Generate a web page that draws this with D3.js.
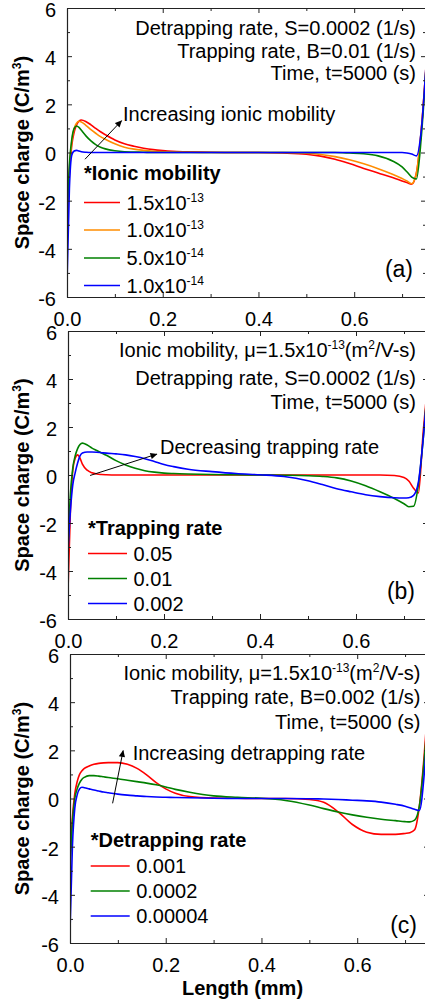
<!DOCTYPE html>
<html><head><meta charset="utf-8">
<script src="https://cdn.jsdelivr.net/npm/d3@7"></script>
<style>body{margin:0;background:#fff}svg{display:block}</style>
</head><body>
<svg id="chart" width="425" height="1004"></svg>
<script>
// ---------- data ----------
const xTicks = [0, 0.2, 0.4, 0.6];
const xMinor = [0.1, 0.3, 0.5, 0.7];
const yTicks = [-6, -4, -2, 0, 2, 4, 6];
const yMinor = [-5, -3, -1, 1, 3, 5];
const xDomain = [0, 0.75];
const yDomain = [-6, 6];

const xs = [0, 0.005, 0.01, 0.015, 0.02, 0.025, 0.03, 0.04, 0.05, 0.06, 0.07, 0.08, 0.1, 0.12, 0.14, 0.16, 0.18, 0.2, 0.22, 0.25, 0.3, 0.35, 0.4, 0.45, 0.5, 0.53, 0.56, 0.59, 0.62, 0.65, 0.68, 0.7, 0.71, 0.72, 0.73, 0.74, 0.75];

// (a) ionic mobility
const aMob15 = [-3.2, -0.9, 0.3, 0.85, 1.15, 1.3, 1.35, 1.28, 1.15, 1.0, 0.86, 0.74, 0.52, 0.36, 0.26, 0.18, 0.12, 0.08, 0.05, 0.03, 0.01, 0, 0, -0.02, -0.07, -0.15, -0.28, -0.46, -0.66, -0.85, -1.04, -1.18, -1.25, -1.32, -0.85, 0.9, 3.6];
const aMob10 = [-3.0, -0.7, 0.45, 1.0, 1.22, 1.3, 1.27, 1.12, 0.95, 0.8, 0.66, 0.55, 0.36, 0.22, 0.14, 0.09, 0.05, 0.03, 0.02, 0.01, 0, 0, 0, 0, -0.03, -0.08, -0.17, -0.3, -0.47, -0.67, -0.9, -1.08, -1.18, -1.3, -0.85, 0.9, 3.5];
const aMob5 = [-3.0, -0.5, 0.55, 1.0, 1.1, 1.04, 0.92, 0.68, 0.48, 0.33, 0.22, 0.15, 0.07, 0.03, 0.02, 0.01, 0, 0, 0, 0, 0, 0, 0, 0, 0, 0, 0, -0.02, -0.05, -0.14, -0.35, -0.6, -0.8, -1.02, -1.1, 0.6, 3.5];
const aMob1 = [-5.4, -1.5, -0.1, 0.06, 0.09, 0.06, 0.03, 0.01, 0, 0, 0, 0, 0, 0, 0, 0, 0, 0, 0, 0, 0, 0, 0, 0, 0, 0, 0, 0, 0, 0, 0, 0, -0.02, -0.06, -0.14, 0.9, 3.6];

// (b) trapping rate
const bTrap05 = [-4.8, -1.5, 0.2, 0.7, 0.84, 0.7, 0.45, 0.2, 0.09, 0.04, 0.02, 0.01, 0, 0, 0, 0, 0, 0, 0, 0, 0, 0, 0, 0, 0, 0, 0, 0, 0, 0, -0.02, -0.1, -0.25, -0.55, -0.75, 1.8, 4.0];
const bTrap01 = [-3.0, -0.8, 0.3, 0.8, 1.1, 1.27, 1.33, 1.25, 1.12, 1.02, 0.92, 0.82, 0.6, 0.42, 0.28, 0.18, 0.12, 0.08, 0.06, 0.04, 0.02, 0.01, 0, -0.01, -0.03, -0.06, -0.12, -0.25, -0.45, -0.7, -0.98, -1.2, -1.32, -1.3, -0.4, 1.5, 4.0];
const bTrap002 = [-3.2, -1.5, -0.4, 0.1, 0.5, 0.8, 0.92, 0.96, 0.96, 0.95, 0.93, 0.91, 0.88, 0.84, 0.77, 0.68, 0.56, 0.44, 0.35, 0.24, 0.14, 0.06, 0.01, -0.06, -0.24, -0.4, -0.57, -0.7, -0.82, -0.9, -0.95, -0.96, -0.95, -0.85, -0.3, 1.5, 3.8];

// (c) detrapping rate
const cDet001 = [-2.6, -0.8, 0.2, 0.7, 1.0, 1.15, 1.25, 1.35, 1.42, 1.46, 1.48, 1.49, 1.49, 1.42, 1.25, 0.98, 0.66, 0.4, 0.22, 0.08, 0.02, 0.01, 0, 0, -0.04, -0.16, -0.55, -1.08, -1.4, -1.49, -1.49, -1.45, -1.42, -1.3, -0.3, 1.8, 4.5];
const cDet0002 = [-3.0, -1.0, 0.0, 0.4, 0.65, 0.8, 0.88, 0.95, 0.95, 0.93, 0.9, 0.87, 0.82, 0.76, 0.7, 0.64, 0.57, 0.48, 0.38, 0.26, 0.11, 0.05, 0.01, -0.08, -0.27, -0.42, -0.56, -0.68, -0.78, -0.86, -0.92, -0.96, -0.97, -0.9, -0.3, 1.6, 4.2];
const cDet00004 = [-5.5, -2.0, -0.4, 0.15, 0.4, 0.47, 0.45, 0.4, 0.35, 0.31, 0.27, 0.24, 0.18, 0.14, 0.11, 0.08, 0.06, 0.05, 0.04, 0.03, 0.01, 0, 0, 0, -0.01, -0.02, -0.04, -0.07, -0.1, -0.15, -0.24, -0.32, -0.38, -0.45, -0.5, 1.0, 4.0];

const aLegend = [["1.5x10", "-13"], ["1.0x10", "-13"], ["5.0x10", "-14"], ["1.0x10", "-14"]];
const bLegend = [["0.05", ""], ["0.01", ""], ["0.002", ""]];
const cLegend = [["0.001", ""], ["0.0002", ""], ["0.00004", ""]];

const colors4 = ["#ff0000", "#ff8c00", "#008000", "#0000ff"];
const colors3 = ["#ff0000", "#008000", "#0000ff"];

// ---------- layout ----------
const FONT = "'Liberation Sans', Arial, Helvetica, sans-serif";
const panels = [
  {
    box: {l: 67, t: 8, b: 297, w: 359},
    series: [aMob15, aMob10, aMob5, aMob1], colors: colors4,
    notes: [
      [["Detrapping rate, S=0.0002 (1/s)"]],
      [["Trapping rate, B=0.01 (1/s)"]],
      [["Time, t=5000 (s)"]]
    ],
    notesX: 416, notesY: [35, 58, 80],
    arrowText: "Increasing ionic mobility", arrowTextPos: [123, 121],
    arrow: [[0.0376, -0.28], [0.114, 1.32]],
    legendTitle: "*Ionic mobility", legendX: 84, legendTitleY: 180,
    legendYs: [202.5, 230, 258, 285.5], legendLen: 36, legend: aLegend,
    tag: "(a)", tagPos: [413, 277]
  },
  {
    box: {l: 68, t: 331, b: 619, w: 360},
    series: [bTrap05, bTrap01, bTrap002], colors: colors3,
    notes: [
      [["Ionic mobility, \u03bc=1.5x10"], ["-13", "sup"], ["(m"], ["2", "sup"], ["/V-s)"]],
      [["Detrapping rate, S=0.0002 (1/s)"]],
      [["Time, t=5000 (s)"]]
    ],
    notesX: 416, notesY: [357, 384.5, 408.5],
    arrowText: "Decreasing trapping rate", arrowTextPos: [160, 453.5],
    arrow: [[0.046, -0.02], [0.185, 0.87]],
    legendTitle: "*Trapping rate", legendX: 88, legendTitleY: 534.5,
    legendYs: [553.5, 578.5, 603.5], legendLen: 39, legend: bLegend,
    tag: "(b)", tagPos: [415, 599]
  },
  {
    box: {l: 70, t: 654, b: 943, w: 359},
    series: [cDet001, cDet0002, cDet00004], colors: colors3,
    notes: [
      [["Ionic mobility, \u03bc=1.5x10"], ["-13", "sup"], ["(m"], ["2", "sup"], ["/V-s)"]],
      [["Trapping rate, B=0.002 (1/s)"]],
      [["Time, t=5000 (s)"]]
    ],
    notesX: 420.5, notesY: [679.5, 704, 728.5],
    arrowText: "Increasing detrapping rate", arrowTextPos: [132.7, 759.5],
    arrow: [[0.089, -0.2], [0.111, 1.99]],
    legendTitle: "*Detrapping rate", legendX: 90.7, legendTitleY: 847,
    legendYs: [866, 891, 916], legendLen: 39, legend: cLegend,
    tag: "(c)", tagPos: [417, 933],
    xTitle: "Length (mm)", xTitleX: 242.5
  }
];

const svg = d3.select("#chart");
svg.append("rect").attr("width", 425).attr("height", 1004).attr("fill", "#fff");
const defs = svg.append("defs");
defs.append("marker").attr("id", "arrowhead")
  .attr("viewBox", "0 0 10 10").attr("refX", 9).attr("refY", 5)
  .attr("markerWidth", 8).attr("markerHeight", 7).attr("orient", "auto")
  .attr("markerUnits", "userSpaceOnUse")
  .append("path").attr("d", "M0,0.5 L10,5 L0,9.5 Z").attr("fill", "#000");

function rich(textSel, parts) {
  let raised = false;
  parts.forEach(([t, kind]) => {
    const ts = textSel.append("tspan").text(t);
    if (kind === "sup") {
      ts.attr("font-size", 12).attr("dy", -8);
      raised = true;
    } else if (raised) {
      ts.attr("dy", 8);
      raised = false;
    }
  });
}

const AX = "#222";

panels.forEach((p, pi) => {
  const {l, t, b, w} = p.box;
  const x = d3.scaleLinear().domain(xDomain).range([l, l + w]);
  const y = d3.scaleLinear().domain(yDomain).range([b, t]);
  const g = svg.append("g");

  const clipId = "clip" + pi;
  defs.append("clipPath").attr("id", clipId).append("rect")
    .attr("x", l).attr("y", t).attr("width", w).attr("height", b - t);

  // series lines
  const line = d3.line().x((d, i) => x(xs[i])).y(d => y(d)).curve(d3.curveMonotoneX);
  const lg = g.append("g").attr("clip-path", `url(#${clipId})`);
  p.series.forEach((s, i) => {
    lg.append("path").datum(s).attr("d", line)
      .attr("fill", "none").attr("stroke", p.colors[i]).attr("stroke-width", 1.6);
  });

  // axes
  const styleAxis = sel => {
    sel.selectAll("path.domain").attr("stroke", AX).attr("stroke-width", 1.2);
    sel.selectAll(".tick line").attr("stroke", AX).attr("stroke-width", 1);
    sel.selectAll(".tick text").attr("fill", "#000").attr("font-family", FONT).attr("font-size", 20);
  };
  const bottom = g.append("g").attr("transform", `translate(0,${b})`)
    .call(d3.axisBottom(x).tickValues(xTicks).tickSizeInner(-5).tickSizeOuter(0).tickPadding(14.5)
      .tickFormat(d3.format(".1f")));
  styleAxis(bottom);
  g.append("g").attr("transform", `translate(0,${b})`)
    .call(d3.axisBottom(x).tickValues(xMinor).tickSize(-3).tickFormat(""))
    .call(styleAxis).select("path.domain").remove();
  const top = g.append("g").attr("transform", `translate(0,${t})`)
    .call(d3.axisTop(x).tickValues(xTicks).tickSizeInner(-5).tickSizeOuter(0).tickFormat(""));
  styleAxis(top);
  g.append("g").attr("transform", `translate(0,${t})`)
    .call(d3.axisTop(x).tickValues(xMinor).tickSize(-3).tickFormat(""))
    .call(styleAxis).select("path.domain").remove();
  const left = g.append("g").attr("transform", `translate(${l},0)`)
    .call(d3.axisLeft(y).tickValues(yTicks).tickSizeInner(-5).tickSizeOuter(0).tickPadding(11)
      .tickFormat(d => String(d)));
  styleAxis(left);
  left.selectAll(".tick text").attr("dy", "0.42em");
  g.append("g").attr("transform", `translate(${l},0)`)
    .call(d3.axisLeft(y).tickValues(yMinor).tickSize(-3).tickFormat(""))
    .call(styleAxis).select("path.domain").remove();
  const right = g.append("g").attr("transform", `translate(${l + w},0)`)
    .call(d3.axisRight(y).tickValues(yTicks).tickSizeInner(-5).tickSizeOuter(0).tickFormat(""));
  styleAxis(right);
  g.append("g").attr("transform", `translate(${l + w},0)`)
    .call(d3.axisRight(y).tickValues(yMinor).tickSize(-3).tickFormat(""))
    .call(styleAxis).select("path.domain").remove();

  // y title
  const yt = g.append("text")
    .attr("transform", `translate(29,${y(0)}) rotate(-90)`)
    .attr("text-anchor", "middle").attr("font-family", FONT)
    .attr("font-size", 20).attr("font-weight", "bold").attr("fill", "#000");
  rich(yt, [["Space charge (C/m"], ["3", "sup"], [")"]]);

  // notes
  p.notes.forEach((parts, i) => {
    const tx = g.append("text").attr("x", p.notesX).attr("y", p.notesY[i])
      .attr("text-anchor", "end").attr("font-family", FONT).attr("font-size", 20).attr("fill", "#000");
    rich(tx, parts);
  });

  // arrow annotation
  g.append("line")
    .attr("x1", x(p.arrow[0][0])).attr("y1", y(p.arrow[0][1]))
    .attr("x2", x(p.arrow[1][0])).attr("y2", y(p.arrow[1][1]))
    .attr("stroke", "#000").attr("stroke-width", 1).attr("marker-end", "url(#arrowhead)");
  g.append("text").attr("x", p.arrowTextPos[0]).attr("y", p.arrowTextPos[1])
    .attr("font-family", FONT).attr("font-size", 20).attr("fill", "#000").text(p.arrowText);

  // legend
  g.append("text").attr("x", p.legendX).attr("y", p.legendTitleY)
    .attr("font-family", FONT).attr("font-size", 20).attr("font-weight", "bold").attr("fill", "#000")
    .text(p.legendTitle);
  p.legend.forEach((lab, i) => {
    const ly = p.legendYs[i];
    g.append("line").attr("x1", p.legendX).attr("x2", p.legendX + p.legendLen)
      .attr("y1", ly).attr("y2", ly).attr("stroke", p.colors[i]).attr("stroke-width", 1.6);
    const tx = g.append("text").attr("x", p.legendX + p.legendLen + 6.5).attr("y", ly + 7)
      .attr("font-family", FONT).attr("font-size", 20).attr("fill", "#000");
    const parts = [[lab[0]]];
    if (lab[1]) parts.push([lab[1], "sup"]);
    rich(tx, parts);
  });

  // panel tag
  g.append("text").attr("x", p.tagPos[0]).attr("y", p.tagPos[1])
    .attr("text-anchor", "end").attr("font-family", FONT).attr("font-size", 23).attr("fill", "#000")
    .text(p.tag);

  if (p.xTitle) {
    g.append("text").attr("x", p.xTitleX).attr("y", 995)
      .attr("text-anchor", "middle").attr("font-family", FONT)
      .attr("font-size", 20).attr("font-weight", "bold").attr("fill", "#000").text(p.xTitle);
  }
});
</script>
</body></html>
